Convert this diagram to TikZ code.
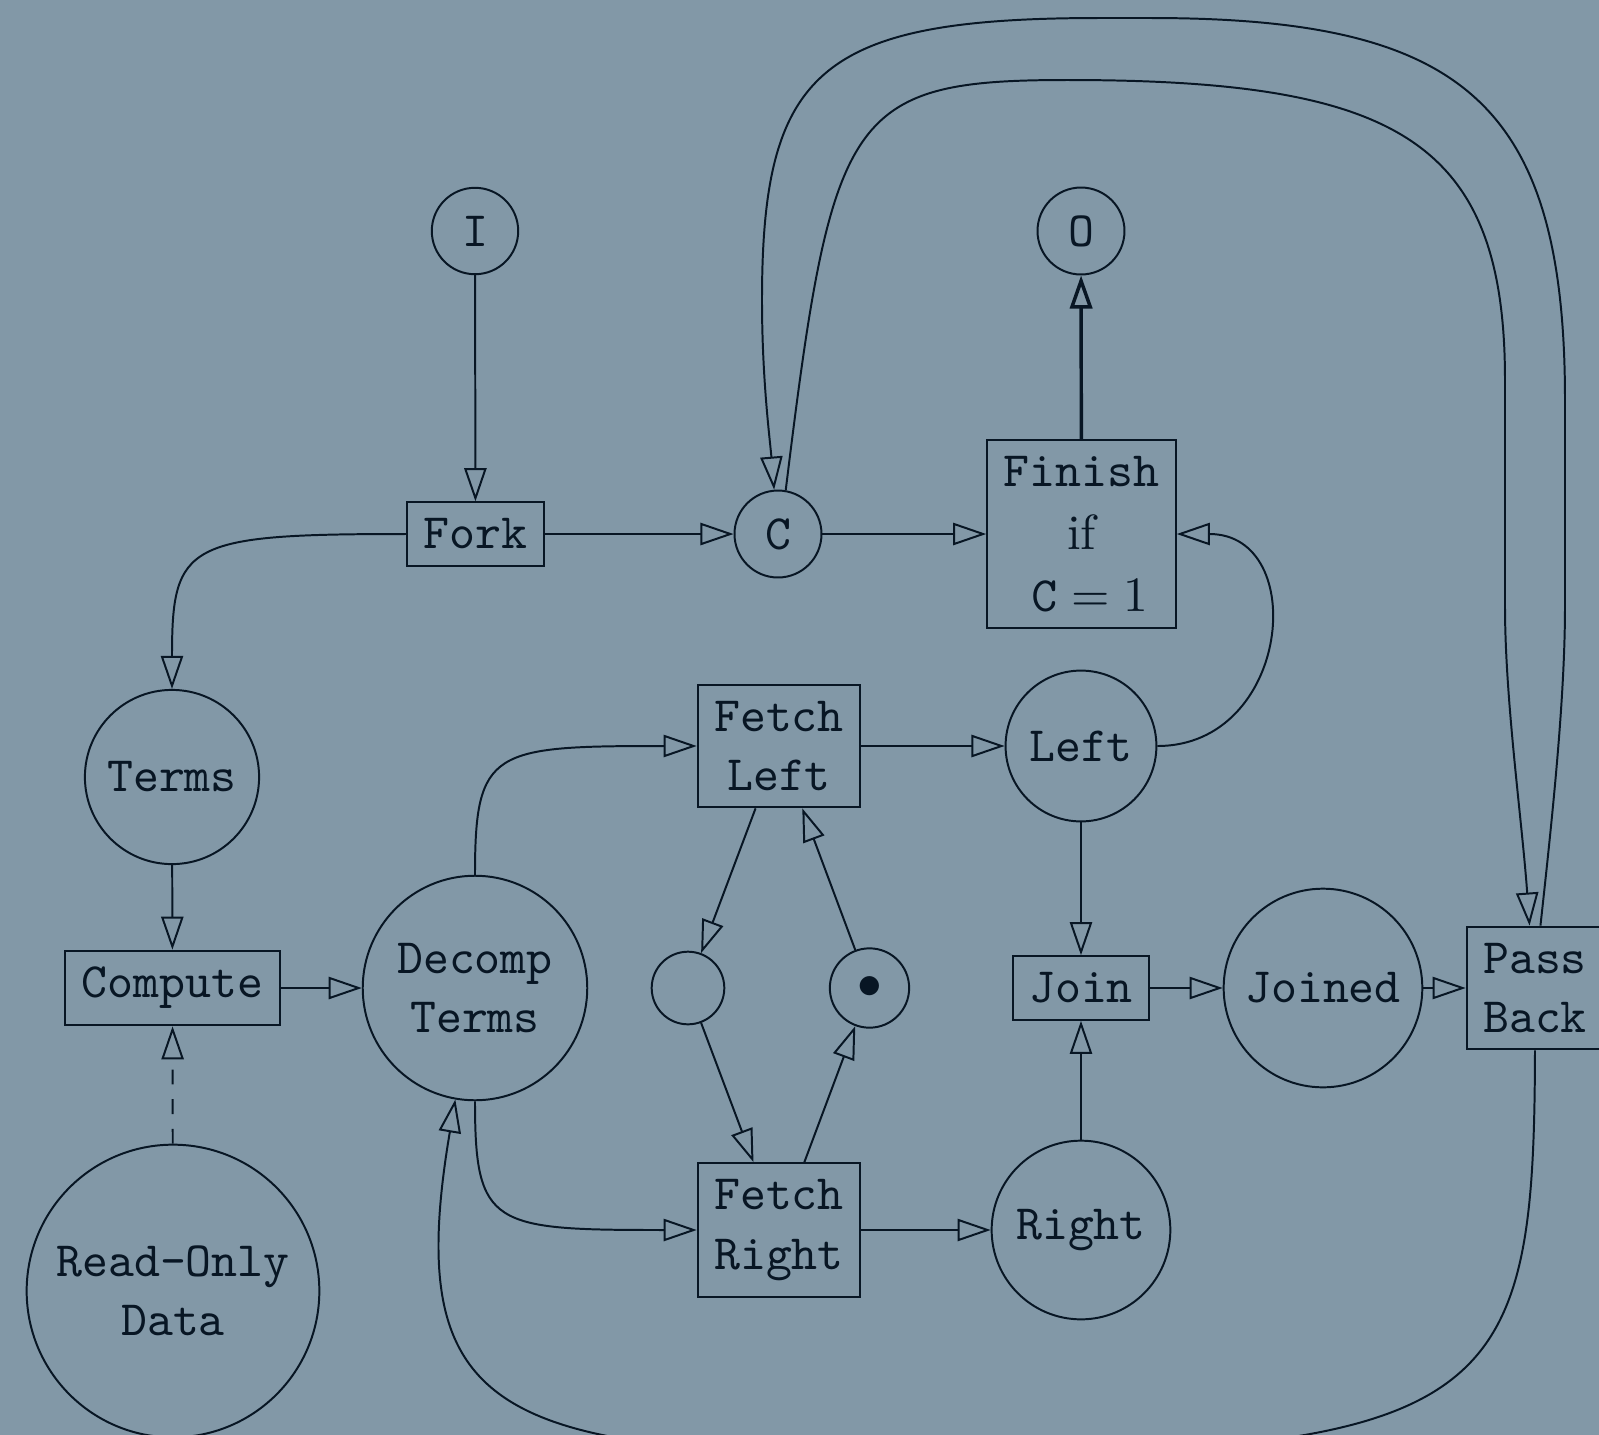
\documentclass[tikz,border=0pt]{standalone}
\usetikzlibrary{arrows.meta}
\definecolor{bgc}{RGB}{130,152,167}
\definecolor{ink}{RGB}{8,22,36}
\begin{document}
\begin{tikzpicture}[x=0.2024pt,y=-0.2024pt,
  place/.style={circle,draw=ink,text=ink,font=\ttfamily,align=center,inner sep=0.3333em},
  trans/.style={rectangle,draw=ink,text=ink,font=\ttfamily,align=center,inner sep=0.3333em},
  arr/.style={draw=ink,-{Triangle[open,length=6.7pt,width=4.5pt]}}]
\useasboundingbox (0,0) rectangle (1599,1435);
\fill[bgc] (0,0) rectangle (1599,1435);
\clip (0,0) rectangle (1599,1435);
% nodes
\node[place] (I) at (475,231) {I};
\node[place] (O) at (1081,231) {O};
\node[trans] (Fork) at (475.5,534) {Fork};
\node[place] (C) at (778,534) {C};
\node[trans] (Finish) at (1081.5,534) {Finish\\[0.6pt]{\rmfamily if}\\[0.6pt]\hspace{3.3pt}$\mathtt{C}=1$};
\node[place] (Terms) at (172,777) {Terms};
\node[trans] (FL) at (779,746) {Fetch\\Left};
\node[place] (Left) at (1081,746) {Left};
\node[trans] (Compute) at (172.5,988) {Compute};
\node[place] (Decomp) at (475,988) {Decomp\\Terms};
\node[place,minimum size=14.7pt] (Empty) at (688,988) {};
\node[place] (Dot) at (869.5,988) {$\bullet$};
\node[trans] (Join) at (1081,988) {Join};
\node[place] (Joined) at (1323,988) {Joined};
\node[trans] (Pass) at (1535,988) {Pass\\Back};
\node[trans] (FR) at (779,1230) {Fetch\\Right};
\node[place] (Right) at (1081,1230) {Right};
\node[place] (RO) at (173,1291) {Read-Only\\Data};
% connectors
\draw[arr] (I) -- (Fork);
\draw[arr] (Fork) -- (C);
\draw[arr] (C) -- (Finish);
\draw[arr,line width=0.7pt] (Finish) -- (O);
\draw[arr] (Fork.west) .. controls (186,534) and (172,543) .. (Terms.north);
\draw[arr] (Terms) -- (Compute);
\draw[arr] (Compute) -- (Decomp);
\draw[arr,dashed] (RO) -- (Compute);
\draw[arr] (Decomp.north) .. controls (475,749) and (492,746) .. (FL.west);
\draw[arr] (Decomp.south) .. controls (475,1227) and (492,1230) .. (FR.west);
\draw[arr] (FL) -- (Left);
\draw[arr] (FR) -- (Right);
\draw[arr] (FL) -- (Empty);
\draw[arr] (Empty) -- (FR);
\draw[arr] (FR) -- (Dot);
\draw[arr] (Dot) -- (FL);
\draw[arr] (Left.east) to[out=0,in=0,looseness=1.6] (Finish.east);
\draw[arr] (Left) -- (Join);
\draw[arr] (Right) -- (Join);
\draw[arr] (Join) -- (Joined);
\draw[arr] (Joined) -- (Pass);
% inner loop C -> Pass Back
\draw[arr] (C.80) .. controls (832,113) and (847,80) .. (1067,80)
  .. controls (1397,80) and (1505,140) .. (1505,380) -- (1505,606)
  .. controls (1505,700) and (1522,820) .. (Pass.95);
% outer loop Pass Back -> C
\draw[arr] (Pass.85) .. controls (1552,820) and (1565,700) .. (1565,606) -- (1565,400)
  .. controls (1565,100) and (1460,18) .. (1150,18) -- (1100,18)
  .. controls (820,18) and (762,70) .. (762,300)
  .. controls (762,380) and (770,440) .. (C.95);
% bottom loop Pass Back -> Decomp
\draw[arr] (Pass.south) .. controls (1534,1400) and (1500,1455) .. (930,1455)
  .. controls (500,1455) and (401,1420) .. (Decomp.260);
\end{tikzpicture}
\end{document}
